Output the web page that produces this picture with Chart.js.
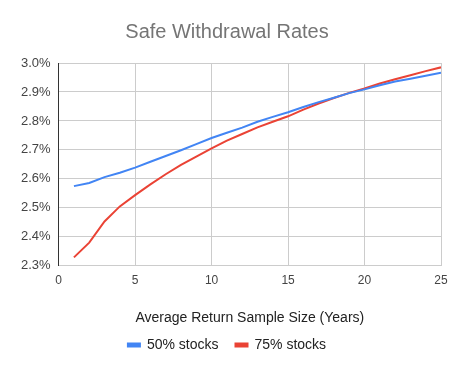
<!DOCTYPE html>
<html>
<head>
<meta charset="utf-8">
<script src="https://cdn.jsdelivr.net/npm/chart.js@4/dist/chart.umd.min.js"></script>
<style>
  html, body { margin: 0; padding: 0; background: #fff; }
  #wrap { width: 460px; height: 371px; }
</style>
</head>
<body>
<div id="wrap"><canvas id="myChart" width="460" height="371"></canvas></div>
<script>
var years = [1, 2, 3, 4, 5, 6, 7, 8, 9, 10, 11, 12, 13, 14, 15, 16, 17, 18, 19, 20, 21, 22, 23, 24, 25];
var stocks50 = [2.575, 2.586, 2.606, 2.621, 2.639, 2.659, 2.679, 2.699, 2.720, 2.741, 2.759, 2.777, 2.797,
  2.814, 2.830, 2.848, 2.865, 2.880, 2.896, 2.909, 2.923, 2.936, 2.946, 2.956, 2.966];
var stocks75 = [2.329, 2.380, 2.453, 2.505, 2.544, 2.581, 2.616, 2.648, 2.677, 2.705, 2.732, 2.755, 2.778,
  2.797, 2.816, 2.839, 2.860, 2.879, 2.897, 2.912, 2.929, 2.944, 2.958, 2.972, 2.985];
var seriesNames = ['50% stocks', '75% stocks'];
var titleText = 'Safe Withdrawal Rates';
var xTitle = 'Average Return Sample Size (Years)';

function toPoints(vals) {
  return years.map(function(y, i) { return { x: y, y: vals[i] }; });
}

var font = 'Arial, "Liberation Sans", sans-serif';

function renderChart() {
  var ctx = document.getElementById('myChart').getContext('2d');
  new Chart(ctx, {
    type: 'line',
    data: {
      datasets: [
        {
          label: seriesNames[0],
          data: toPoints(stocks50),
          borderColor: '#4285f4',
          backgroundColor: '#4285f4',
          borderWidth: 2,
          pointRadius: 0,
          fill: false
        },
        {
          label: seriesNames[1],
          data: toPoints(stocks75),
          borderColor: '#ea4335',
          backgroundColor: '#ea4335',
          borderWidth: 2,
          pointRadius: 0,
          fill: false
        }
      ]
    },
    options: {
      responsive: false,
      animation: false,
      layout: { padding: { left: 13, right: 19, top: 5, bottom: 9 } },
      elements: { line: { tension: 0 } },
      plugins: {
        title: {
          display: true,
          text: titleText,
          color: '#757575',
          font: { family: font, size: 20, weight: 'normal' },
          padding: { top: 15, bottom: 19 }
        },
        legend: {
          position: 'bottom',
          labels: {
            color: '#222',
            font: { family: font, size: 14 },
            boxWidth: 12,
            boxHeight: 3,
            padding: 17
          }
        },
        tooltip: { enabled: false }
      },
      scales: {
        x: {
          type: 'linear',
          min: 0,
          max: 25,
          ticks: { stepSize: 5, color: '#444', font: { family: font, size: 12 }, padding: 8 },
          grid: { color: '#cccccc', drawTicks: false },
          border: { display: false },
          title: {
            display: true,
            text: xTitle,
            color: '#222',
            font: { family: font, size: 14 },
            padding: { top: 14, bottom: -6 }
          }
        },
        y: {
          min: 2.3,
          max: 3.0,
          ticks: {
            stepSize: 0.1,
            color: '#444',
            font: { family: font, size: 13 },
            padding: 8,
            callback: function(v) { return v.toFixed(1) + '%'; }
          },
          grid: { color: '#cccccc', drawTicks: false },
          border: { display: true, color: '#333333', width: 1 }
        }
      }
    }
  });
}
document.addEventListener('DOMContentLoaded', renderChart);
</script>
</body>
</html>
